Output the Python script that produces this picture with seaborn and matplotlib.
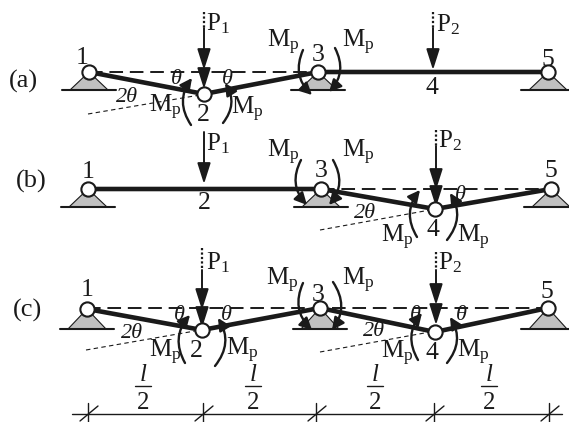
import matplotlib
matplotlib.use("Agg")
import matplotlib.pyplot as plt
from matplotlib.patches import FancyArrowPatch, Polygon
import pandas as pd
import seaborn as sns

sns.set_theme(style="white")
plt.rcParams["font.family"] = ["Liberation Serif", "DejaVu Serif"]
plt.rcParams["mathtext.fontset"] = "custom"
plt.rcParams["mathtext.rm"] = "Liberation Serif"
plt.rcParams["mathtext.it"] = "Liberation Serif:italic"

panel_names = ["(a)", "(b)", "(c)"]
panel_label_x = [23, 31, 28]
panel_label_y = [81, 181, 310]

beam_a_x = [89, 204, 318, 548]
beam_a_y = [72, 94, 72, 72]
beam_b_x = [88, 321, 435, 551]
beam_b_y = [189, 189, 209, 189]
beam_c_x = [87, 202, 320, 435, 548]
beam_c_y = [309, 330, 308, 332, 308]

hinge_x = [89, 204, 318, 548, 88, 321, 435, 551, 87, 202, 320, 435, 548]
hinge_y = [72, 94, 72, 72, 189, 189, 209, 189, 309, 330, 308, 332, 308]

# straight reference lines, x0, x1, y
dash_x0 = [89, 321, 87]
dash_x1 = [318, 551, 548]
dash_y = [72, 189, 308]

# thin 2-theta guide lines
guide_start = [(88, 114), (320, 230), (86, 350), (320, 352)]
guide_end = [(200, 95), (430, 210), (195, 331), (430, 332)]

# supports
support_x = [89, 318, 548, 88, 321, 551, 87, 320, 548]
support_y = [72, 72, 72, 189, 189, 189, 309, 308, 308]
support_base = [90, 90, 90, 207, 207, 207, 329, 329, 329]

# node numbers
node_text = ["1", "2", "3", "4", "5"] * 3
node_text_x = [82, 203, 318, 432, 548, 88, 204, 321, 433, 551, 87, 196, 318, 432, 547]
node_text_y = [58, 115, 55, 88, 60, 172, 203, 171, 230, 171, 290, 351, 295, 353, 292]

# moment labels
mp_x = [165, 247, 283, 358, 283, 358, 397, 473, 165, 242, 282, 358, 397, 473]
mp_y = [107, 109, 42, 42, 152, 152, 237, 237, 352, 350, 280, 280, 353, 352]

# loads: x, dotted top, solid top, first tip, second tip (0 = one head)
load_name = ["P_1", "P_2", "P_1", "P_2", "P_1", "P_2"]
load_x = [204, 433, 204, 436, 202, 436]
load_dot_top = [12, 12, 132, 130, 248, 252]
load_line_top = [28, 28, 132, 146, 270, 270]
load_tip1 = [70, 70, 184, 190, 310, 305]
load_tip2 = [89, 0, 0, 207, 328, 325]
load_text_x = [218, 448, 218, 450, 218, 450]
load_text_y = [24, 25, 144, 141, 263, 263]

# plastic hinge arcs: tail, head, bend
arc_start = [(191, 125), (223, 123), (303, 50), (335, 48),
             (301, 160), (333, 160), (417, 237), (447, 240),
             (185, 363), (215, 366), (303, 283), (333, 282), (418, 360), (447, 363)]
arc_end = [(192, 78), (225, 83), (312, 95), (329, 92),
           (307, 205), (329, 205), (420, 190), (450, 193),
           (190, 315), (218, 318), (312, 330), (332, 330), (422, 313), (450, 317)]
arc_bend = [-0.35, 0.35, 0.35, -0.35,
            0.35, -0.35, -0.35, 0.35,
            -0.35, 0.35, 0.35, -0.35, -0.35, 0.35]

theta_x = [176, 227, 460, 179, 226, 415, 461]
theta_y = [80, 80, 195, 315, 315, 315, 315]
two_theta_x = [127, 365, 132, 374]
two_theta_y = [98, 213, 333, 331]

# span dimension
dim_left, dim_right, dim_y = 72, 562, 414
dim_ticks = [88, 203, 316, 434, 549]
frac_x = [143, 253, 375, 489]

fig = plt.figure(figsize=(5.69, 4.22), dpi=100)
ax = fig.add_axes([0, 0, 1, 1])

beams = pd.concat([
    pd.DataFrame({"x": beam_a_x, "y": beam_a_y, "panel": "a"}),
    pd.DataFrame({"x": beam_b_x, "y": beam_b_y, "panel": "b"}),
    pd.DataFrame({"x": beam_c_x, "y": beam_c_y, "panel": "c"}),
])
sns.lineplot(data=beams, x="x", y="y", units="panel", estimator=None, sort=False,
             color="k", lw=3.3, ax=ax, zorder=3)
hinges = pd.DataFrame({"x": hinge_x, "y": hinge_y})
sns.scatterplot(data=hinges, x="x", y="y", s=105, color="white", edgecolor="k",
                linewidth=1.5, ax=ax, zorder=5)

for x0, x1, y in zip(dash_x0, dash_x1, dash_y):
    ax.plot([x0, x1], [y, y], color="k", lw=1.4, dashes=(7, 3.5), zorder=2)
for a, b in zip(guide_start, guide_end):
    ax.plot([a[0], b[0]], [a[1], b[1]], color="k", lw=0.8, dashes=(4, 3), zorder=2)

for x, y, base in zip(support_x, support_y, support_base):
    ax.add_patch(Polygon([(x, y), (x - 19, base), (x + 19, base)], closed=True,
                         facecolor="#c0c0c0", edgecolor="k", lw=0.8, zorder=1))
    ax.plot([x - 27, x + 27], [base, base], color="k", lw=1.5, zorder=2)

head = "-|>,head_length=0.85,head_width=0.27"
for x, dot, top, tip1, tip2 in zip(load_x, load_dot_top, load_line_top, load_tip1, load_tip2):
    if top > dot:
        ax.plot([x, x], [dot, top], color="k", lw=1.6, dashes=(1, 1))
    ax.add_patch(FancyArrowPatch((x, top), (x, tip1), arrowstyle=head, mutation_scale=15,
                                 color="k", lw=1.4, shrinkA=0, shrinkB=0, zorder=4))
    if tip2:
        ax.add_patch(FancyArrowPatch((x, tip1), (x, tip2), arrowstyle=head, mutation_scale=15,
                                     color="k", lw=1.4, shrinkA=0, shrinkB=0, zorder=4))

for a, b, bend in zip(arc_start, arc_end, arc_bend):
    ax.add_patch(FancyArrowPatch(a, b, connectionstyle=f"arc3,rad={bend}",
                                 arrowstyle="-|>,head_length=0.6,head_width=0.3",
                                 mutation_scale=12, color="k", lw=1.7,
                                 shrinkA=0, shrinkB=0, zorder=4))

for name, x, y in zip(panel_names, panel_label_x, panel_label_y):
    ax.text(x, y, name, fontsize=19, ha="center", va="center", color="k")
for t, x, y in zip(node_text, node_text_x, node_text_y):
    ax.text(x, y, t, fontsize=18.5, ha="center", va="center", color="k", zorder=6)
for x, y in zip(mp_x, mp_y):
    ax.text(x, y, r"$\mathrm{M_p}$", fontsize=18, ha="center", va="center", color="k", zorder=6)
for name, x, y in zip(load_name, load_text_x, load_text_y):
    ax.text(x, y, rf"$\mathrm{{{name}}}$", fontsize=18, ha="center", va="center", color="k", zorder=6)
for x, y in zip(theta_x, theta_y):
    ax.text(x, y, "θ", fontsize=16, style="italic", ha="center", va="center", color="k", zorder=6)
for x, y in zip(two_theta_x, two_theta_y):
    ax.text(x, y, "2θ", fontsize=16, style="italic", ha="center", va="center", color="k", zorder=6)

ax.plot([dim_left, dim_right], [dim_y, dim_y], color="k", lw=1)
for x in dim_ticks:
    ax.plot([x, x], [dim_y - 11, dim_y + 8], color="k", lw=1)
    ax.plot([x - 8, x + 10], [dim_y + 7, dim_y - 8], color="k", lw=1)
for x in frac_x:
    ax.text(x, 375, "l", fontsize=18, style="italic", ha="center", va="center", color="k")
    ax.plot([x - 8, x + 8], [386, 386], color="k", lw=1)
    ax.text(x, 403, "2", fontsize=18, ha="center", va="center", color="k")

ax.set_xlim(0, 569)
ax.set_ylim(422, 0)
ax.set_xlabel("")
ax.set_ylabel("")
ax.axis("off")
fig.savefig("out.png", dpi=100, facecolor="white")
